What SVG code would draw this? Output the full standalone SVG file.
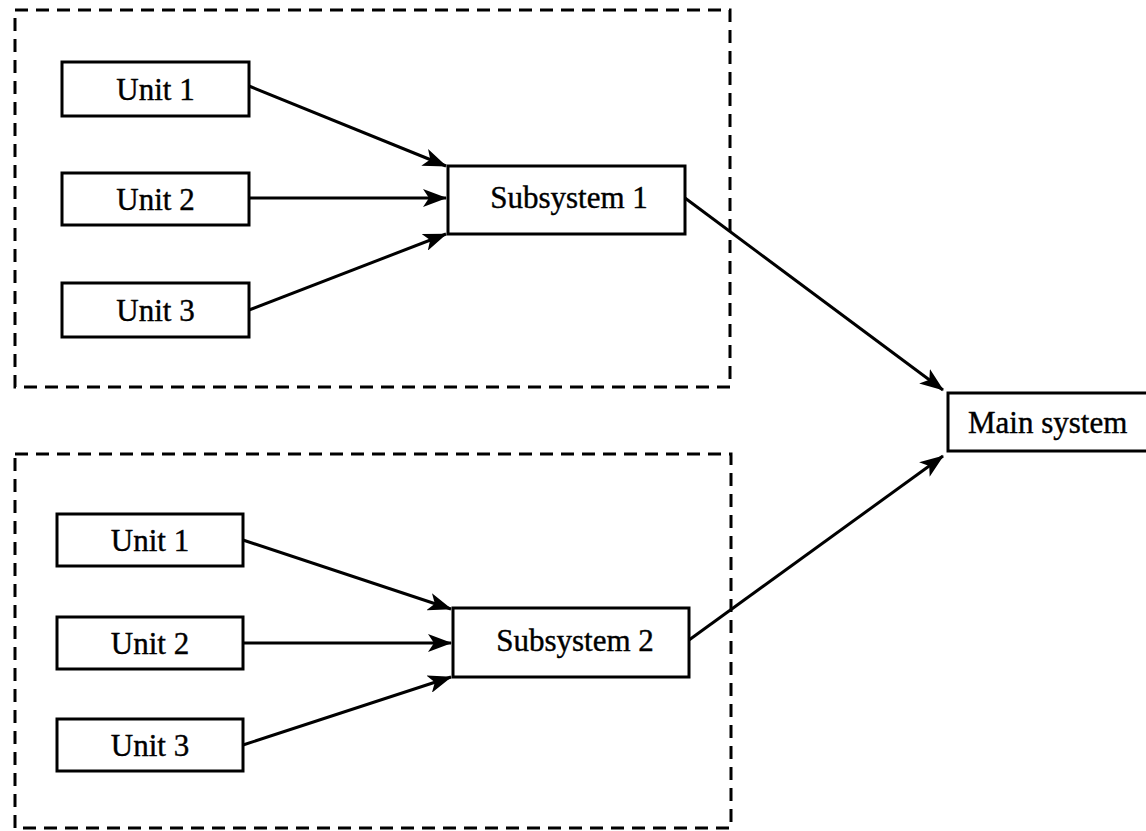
<svg xmlns="http://www.w3.org/2000/svg" width="1146" height="831" viewBox="0 0 1146 831">
  <style>
    .frame { fill: none; stroke: #000; stroke-width: 3; stroke-dasharray: 13 8; }
    .box { fill: #fff; stroke: #000; stroke-width: 3; }
    .label { font-family: "Liberation Serif", "Times New Roman", serif; font-size: 31px; fill: #000; stroke: #000; stroke-width: 0.4; }
    .edge { fill: none; stroke: #000; stroke-width: 3; marker-end: url(#arrow); }
  </style>
  <defs>
    <marker id="arrow" viewBox="0 0 24 18" refX="23" refY="9" markerWidth="24" markerHeight="18" markerUnits="userSpaceOnUse" orient="auto">
      <path d="M0,0 L24,9 L0,18 L6,9 Z" fill="#000"/>
    </marker>
  </defs>
  <rect width="1146" height="831" fill="#fff"/>

  <!-- subsystem groupings -->
  <g id="group1"><rect class="frame" x="15" y="10" width="715" height="377"/></g>
  <g id="group2"><rect class="frame" x="15" y="454" width="716" height="374"/></g>

  <!-- connectors -->
  <g id="connectors">
    <line class="edge" x1="249" y1="86" x2="446" y2="166"/>
    <line class="edge" x1="249" y1="198" x2="446" y2="198"/>
    <line class="edge" x1="249" y1="310" x2="446" y2="234"/>
    <line class="edge" x1="685" y1="198" x2="943" y2="390"/>
    <line class="edge" x1="243" y1="540" x2="451" y2="609"/>
    <line class="edge" x1="243" y1="643" x2="451" y2="643"/>
    <line class="edge" x1="243" y1="745" x2="451" y2="677"/>
    <line class="edge" x1="689" y1="640" x2="943" y2="456"/>
  </g>

  <!-- upper subsystem -->
  <g id="unit1a"><rect class="box" x="62" y="62" width="187" height="54"/><text class="label" x="155.5" y="100" text-anchor="middle">Unit 1</text></g>
  <g id="unit2a"><rect class="box" x="62" y="173" width="187" height="52"/><text class="label" x="155.5" y="210" text-anchor="middle">Unit 2</text></g>
  <g id="unit3a"><rect class="box" x="62" y="283" width="187" height="54"/><text class="label" x="155.5" y="321" text-anchor="middle">Unit 3</text></g>
  <g id="subsystem1"><rect class="box" x="448" y="166" width="237" height="68"/><text class="label" x="569" y="208" text-anchor="middle">Subsystem 1</text></g>

  <!-- lower subsystem -->
  <g id="unit1b"><rect class="box" x="57" y="514" width="186" height="52"/><text class="label" x="150" y="551" text-anchor="middle">Unit 1</text></g>
  <g id="unit2b"><rect class="box" x="57" y="617" width="186" height="52"/><text class="label" x="150" y="654" text-anchor="middle">Unit 2</text></g>
  <g id="unit3b"><rect class="box" x="57" y="719" width="186" height="52"/><text class="label" x="150" y="756" text-anchor="middle">Unit 3</text></g>
  <g id="subsystem2"><rect class="box" x="453" y="608" width="236" height="69"/><text class="label" x="575" y="651" text-anchor="middle">Subsystem 2</text></g>

  <!-- top-level system -->
  <g id="mainsystem"><rect class="box" x="948" y="393" width="210" height="58"/><text class="label" x="968" y="433">Main system</text></g>
</svg>
